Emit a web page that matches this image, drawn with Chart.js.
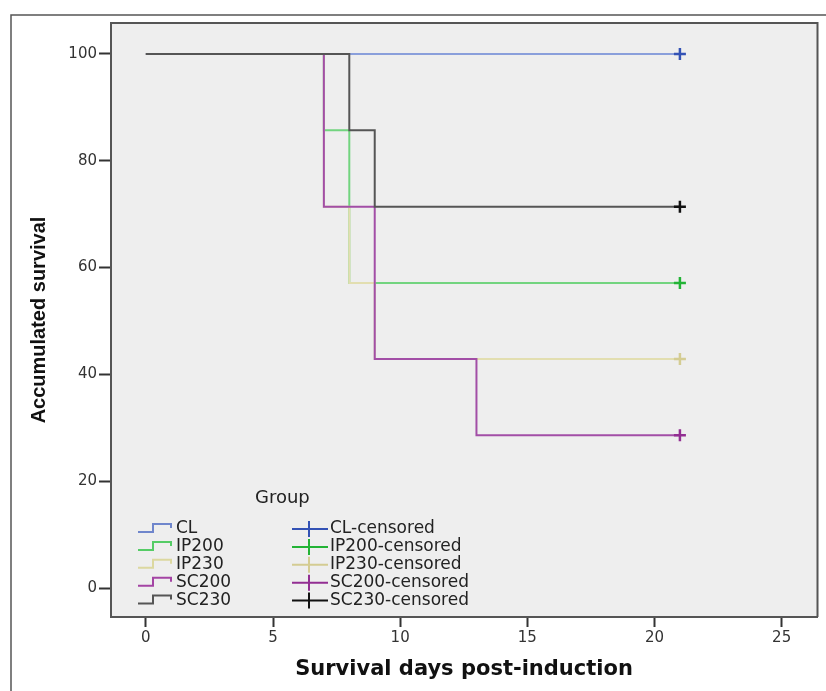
<!DOCTYPE html>
<html>
<head>
<meta charset="utf-8">
<title>Survival</title>
<script src="https://cdn.jsdelivr.net/npm/chart.js@4.4.1/dist/chart.umd.min.js"></script>
<style>
  body { margin: 0; background: #ffffff; }
  #wrap { position: relative; width: 826px; height: 691px; }
</style>
</head>
<body>
<div id="wrap"><canvas id="survivalChart"></canvas></div>
<script>
// Kaplan-Meier curves
const groups = ["CL", "IP200", "IP230", "SC200", "SC230"];

const clDays = [0, 21];
const clSurv = [100, 100];
const ip200Days = [0, 7, 8, 21];
const ip200Surv = [100, 85.7, 57.1, 57.1];
const ip230Days = [0, 7, 8, 9, 21];
const ip230Surv = [100, 71.4, 57.1, 42.9, 42.9];
const sc200Days = [0, 7, 9, 13, 21];
const sc200Surv = [100, 71.4, 42.9, 28.6, 28.6];
const sc230Days = [0, 8, 9, 21];
const sc230Surv = [100, 85.7, 71.4, 71.4];

// censored observations (one per group, same order as groups)
const censorDays = [21, 21, 21, 21, 21];
const censorSurv = [100, 57.1, 42.9, 28.6, 71.4];

const xTicks = [0, 5, 10, 15, 20, 25];
const yTicks = [0, 20, 40, 60, 80, 100];

const lineColors = ["#8a9fdb", "#72d47f", "#e2deb0", "#a24ea6", "#555555"];
const markColors = ["#3352b5", "#22b335", "#d4cc92", "#922e92", "#111111"];
const legendLineColors = ["#6f86cc", "#55cc66", "#dcd8a0", "#a444a4", "#555555"];

const allDays = [clDays, ip200Days, ip230Days, sc200Days, sc230Days];
const allSurv = [clSurv, ip200Surv, ip230Surv, sc200Surv, sc230Surv];
// SC230 on top, CL at the bottom
const drawOrder = [4, 3, 2, 1, 0];

function toPoints(xs, ys) {
  return xs.map((x, i) => ({ x: x, y: ys[i] }));
}

const datasets = [];
groups.forEach((g, i) => {
  datasets.push({
    label: g,
    data: toPoints(allDays[i], allSurv[i]),
    borderColor: lineColors[i],
    borderWidth: 2,
    stepped: true,
    pointRadius: 0,
    fill: false,
    order: drawOrder[i],
  });
});
groups.forEach((g, i) => {
  datasets.push({
    label: g + "-censored",
    data: [{ x: censorDays[i], y: censorSurv[i] }],
    showLine: false,
    pointStyle: "cross",
    pointRadius: 6,
    pointBorderWidth: 2.5,
    borderColor: markColors[i],
    backgroundColor: markColors[i],
    order: -1 - drawOrder[i],
  });
});

const tickFont = { family: "'DejaVu Sans', sans-serif", size: 15 };

const frameAndLegend = {
  id: "frameAndLegend",
  beforeDraw(chart) {
    const c = chart.ctx;
    const a = chart.chartArea;
    c.save();
    // outer frame
    c.strokeStyle = "#555";
    c.lineWidth = 1.5;
    c.beginPath();
    c.moveTo(11, 700);
    c.lineTo(11, 15);
    c.lineTo(830, 15);
    c.stroke();
    // plot background
    c.fillStyle = "#eeeeee";
    c.fillRect(a.left, a.top, a.right - a.left, a.bottom - a.top);
    c.restore();
  },
  afterDraw(chart) {
    const c = chart.ctx;
    const a = chart.chartArea;
    c.save();
    c.strokeStyle = "#555";
    c.lineWidth = 2;
    c.beginPath();
    c.moveTo(a.left, a.top);
    c.lineTo(a.right, a.top);
    c.lineTo(a.right, a.bottom);
    c.stroke();

    // axis titles
    c.fillStyle = "#111";
    c.font = "bold 21px 'DejaVu Sans', sans-serif";
    c.textAlign = "center";
    c.textBaseline = "alphabetic";
    c.fillText("Survival days post-induction", 464, 675);

    c.save();
    c.translate(45, 320);
    c.rotate(-Math.PI / 2);
    c.font = "bold 20px 'Liberation Sans', Arial, sans-serif";
    c.fillText("Accumulated survival", 0, 0);
    c.restore();

    // legend
    c.fillStyle = "#222";
    c.font = "18px 'DejaVu Sans', sans-serif";
    c.textAlign = "left";
    c.textBaseline = "middle";
    c.fillText("Group", 255, 498);
    c.font = "17px 'DejaVu Sans', sans-serif";
    groups.forEach((g, i) => {
      const cy = 529 + i * 17.9;
      c.lineWidth = 2;
      c.strokeStyle = legendLineColors[i];
      c.beginPath();
      c.moveTo(138, cy + 3);
      c.lineTo(153, cy + 3);
      c.lineTo(153, cy - 5);
      c.lineTo(171, cy - 5);
      c.lineTo(171, cy - 1);
      c.stroke();
      c.fillText(g, 176, cy);

      c.strokeStyle = markColors[i];
      c.beginPath();
      c.moveTo(292, cy);
      c.lineTo(328, cy);
      c.moveTo(309, cy - 8);
      c.lineTo(309, cy + 8);
      c.stroke();
      c.fillText(g + "-censored", 330, cy);
    });
    c.restore();
  },
};

new Chart(document.getElementById("survivalChart"), {
  type: "line",
  data: { datasets: datasets },
  options: {
    responsive: true,
    maintainAspectRatio: false,
    animation: false,
    layout: { padding: { top: 23, right: 7, left: 0, bottom: 0 } },
    plugins: {
      legend: { display: false },
      tooltip: { enabled: false },
    },
    scales: {
      x: {
        type: "linear",
        min: -1.37,
        max: 26.41,
        afterBuildTicks: (s) => { s.ticks = xTicks.map((v) => ({ value: v })); },
        afterFit: (s) => { s.height = 74; },
        grid: { drawOnChartArea: false, tickLength: 10, tickColor: "#333", tickWidth: 2 },
        border: { display: true, color: "#555", width: 2 },
        ticks: { padding: 2, color: "#333", font: tickFont, maxRotation: 0 },
      },
      y: {
        type: "linear",
        min: -5.43,
        max: 105.8,
        afterBuildTicks: (s) => { s.ticks = yTicks.map((v) => ({ value: v })); },
        afterFit: (s) => { s.width = 111; },
        grid: { drawOnChartArea: false, tickLength: 12, tickColor: "#333", tickWidth: 2 },
        border: { display: true, color: "#555", width: 2 },
        ticks: { padding: 2, color: "#333", font: tickFont },
      },
    },
  },
  plugins: [frameAndLegend],
});
</script>
</body>
</html>
